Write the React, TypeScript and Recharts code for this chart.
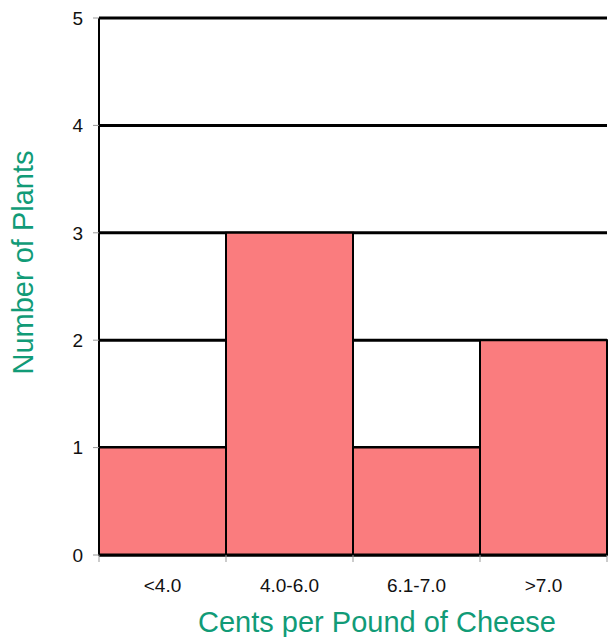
import { BarChart, Bar, XAxis, YAxis, CartesianGrid, Label } from 'recharts';

const categories = ['<4.0', '4.0-6.0', '6.1-7.0', '>7.0'];
const plants = [1, 3, 1, 2];
const yTicks = [0, 1, 2, 3, 4, 5];

const data = categories.map((name, i) => ({ name, plants: plants[i] }));

const TEAL = '#119B77';
const FONT = '"Liberation Sans", Arial, sans-serif';

// category ticks: label at centre, small tick marks at the bin edges
const BinTick = (props: any) => {
  const { x, y, payload, index, visibleTicksCount } = props;
  const half = payload.offset || 0;
  const top = y - 8;
  return (
    <g>
      <line x1={x - half} x2={x - half} y1={top} y2={top + 7} stroke="#999" />
      {index === visibleTicksCount - 1 && (
        <line x1={x + half} x2={x + half} y1={top} y2={top + 7} stroke="#999" />
      )}
      <text x={x} y={y + 29} textAnchor="middle" fill="#111" fontSize={19} fontFamily={FONT}>
        {payload.value}
      </text>
    </g>
  );
};

export default function App() {
  return (
    <div style={{ position: 'absolute', left: 0, top: 0, background: '#fff' }}>
      <BarChart
        width={609}
        height={637}
        data={data}
        margin={{ top: 18, right: 2, left: 0, bottom: 0 }}
        barCategoryGap={0}
      >
        <CartesianGrid vertical={false} stroke="#000" strokeWidth={3} />
        <XAxis
          dataKey="name"
          height={82}
          axisLine={{ stroke: '#000', strokeWidth: 3 }}
          tickLine={false}
          tick={<BinTick />}
          interval={0}
        >
          <Label
            content={({ viewBox }: any) => (
              <text
                x={viewBox.x + viewBox.width / 2 + 24}
                y={viewBox.y + 77}
                textAnchor="middle"
                fill={TEAL}
                fontSize={29}
                fontFamily={FONT}
              >
                Cents per Pound of Cheese
              </text>
            )}
          />
        </XAxis>
        <YAxis
          width={99}
          domain={[0, 5]}
          ticks={yTicks}
          interval={0}
          axisLine={{ stroke: '#000', strokeWidth: 2 }}
          tickLine={{ stroke: '#999' }}
          tickSize={6}
          tickMargin={10}
          tick={{ fill: '#111', fontSize: 19, fontFamily: FONT }}
        >
          <Label
            content={({ viewBox }: any) => {
              const cx = viewBox.x + 33;
              const cy = viewBox.y + viewBox.height / 2 - 24;
              return (
                <text
                  x={cx}
                  y={cy}
                  transform={`rotate(-90 ${cx} ${cy})`}
                  textAnchor="middle"
                  fill={TEAL}
                  fontSize={29}
                  fontFamily={FONT}
                >
                  Number of Plants
                </text>
              );
            }}
          />
        </YAxis>
        <Bar dataKey="plants" fill="#FA7C7E" stroke="#000" strokeWidth={2} isAnimationActive={false} />
      </BarChart>
    </div>
  );
}
